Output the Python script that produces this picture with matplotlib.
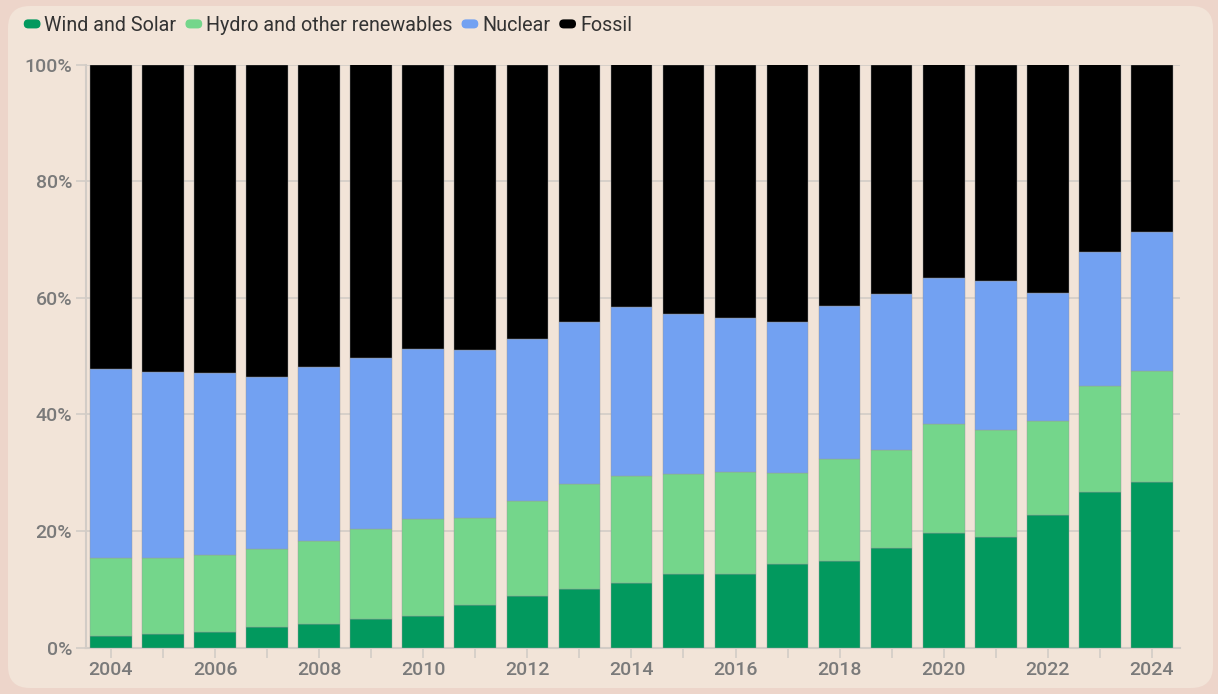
import matplotlib
matplotlib.use("Agg")
import matplotlib.pyplot as plt
from matplotlib.patches import FancyBboxPatch, Patch
from matplotlib.legend_handler import HandlerPatch
from matplotlib.ticker import PercentFormatter
import numpy as np

# ── Data (share of generation, %) ─────────────────────────────────────────────
years = list(range(2004, 2025))
wind_solar = [2.0, 2.3, 2.7, 3.5, 4.0, 4.9, 5.4, 7.3, 8.8, 10.1, 11.1,
              12.6, 12.6, 14.3, 14.8, 17.0, 19.7, 19.0, 22.7, 26.6, 28.4]
hydro_other = [13.4, 13.1, 13.2, 13.4, 14.3, 15.4, 16.7, 14.9, 16.3, 17.9, 18.4,
               17.1, 17.5, 15.6, 17.5, 16.9, 18.7, 18.3, 16.1, 18.2, 19.0]
nuclear = [32.3, 31.8, 31.2, 29.5, 29.8, 29.4, 29.1, 28.8, 27.9, 27.9, 28.9,
           27.5, 26.5, 26.0, 26.2, 26.8, 24.9, 25.6, 22.0, 23.0, 23.8]
fossil = [100 - a - b - c for a, b, c in zip(wind_solar, hydro_other, nuclear)]

series = [
    ("Wind and Solar", wind_solar, "#02995e"),
    ("Hydro and other renewables", hydro_other, "#74d68b"),
    ("Nuclear", nuclear, "#72a1f2"),
    ("Fossil", fossil, "#000000"),
]

PANEL = "#f2e4d8"
OUTER = "#edd5ca"
TICK_COL = "#7a7a7a"
LIGHT = "#d2ccc6"

plt.rcParams["font.family"] = ["Roboto", "DejaVu Sans"]

fig = plt.figure(figsize=(12.18, 6.94), dpi=100, facecolor=OUTER)
panel = FancyBboxPatch((8 / 1218, 6 / 694), 1205 / 1218, 682 / 694,
                       boxstyle="round,pad=0,rounding_size=0.018",
                       transform=fig.transFigure, facecolor=PANEL,
                       edgecolor="none", zorder=-10, mutation_aspect=1218 / 694)
fig.patches.append(panel)

ax = fig.add_axes([86 / 1218, 1 - 647.6 / 694, (1180 - 86) / 1218, (647.6 - 64.5) / 694])
ax.set_facecolor("none")
ax.set_zorder(5)

x = np.array(years)
bottom = np.zeros(len(years))
for name, vals, col in series:
    ax.bar(x, vals, bottom=bottom, width=0.8, color=col, label=name,
           edgecolor="#9a9a9a", linewidth=0.3, zorder=3)
    bottom += np.array(vals)

ax.set_xlim(2003.52, 2024.54)
ax.set_ylim(0, 100)
ax.set_yticks([0, 20, 40, 60, 80, 100])
ax.yaxis.set_major_formatter(PercentFormatter(decimals=0))
ax.set_xticks(years)
ax.set_xticklabels([str(y) if y % 2 == 0 else "" for y in years])
ax.tick_params(axis="both", colors=LIGHT, labelcolor=TICK_COL, labelsize=14,
               length=7, width=1.2)
for lbl in ax.get_xticklabels() + ax.get_yticklabels():
    lbl.set_fontweight("medium")
ax.tick_params(axis="x", pad=3)
ax.tick_params(axis="y", pad=3)
ax.grid(axis="y", color=LIGHT, linewidth=1.2, zorder=0)
for s in ("top", "right"):
    ax.spines[s].set_visible(False)
for s in ("left", "bottom"):
    ax.spines[s].set_color(LIGHT)
    ax.spines[s].set_linewidth(1.5)


# ── Legend with rounded pill markers ─────────────────────────────────────────
class PillHandler(HandlerPatch):
    def create_artists(self, legend, orig_handle, xdescent, ydescent,
                       width, height, fontsize, trans):
        h = height * 0.6
        p = FancyBboxPatch((-xdescent, -ydescent + (height - h) / 2), width, h,
                           boxstyle=f"round,pad=0,rounding_size={h / 2}",
                           facecolor=orig_handle.get_facecolor(),
                           edgecolor="none", transform=trans)
        return [p]


handles = [Patch(facecolor=c, label=n) for n, _, c in series]
fig.legend(handles=handles, loc="upper left", bbox_to_anchor=(6 / 1218, 1 + 2 / 694),
           ncol=4, frameon=False, fontsize=14.2, handlelength=0.85,
           handleheight=0.8, handletextpad=0.2, columnspacing=0.45,
           labelcolor="#333333", handler_map={Patch: PillHandler()})

fig.savefig("out.png", dpi=100, facecolor=OUTER)
